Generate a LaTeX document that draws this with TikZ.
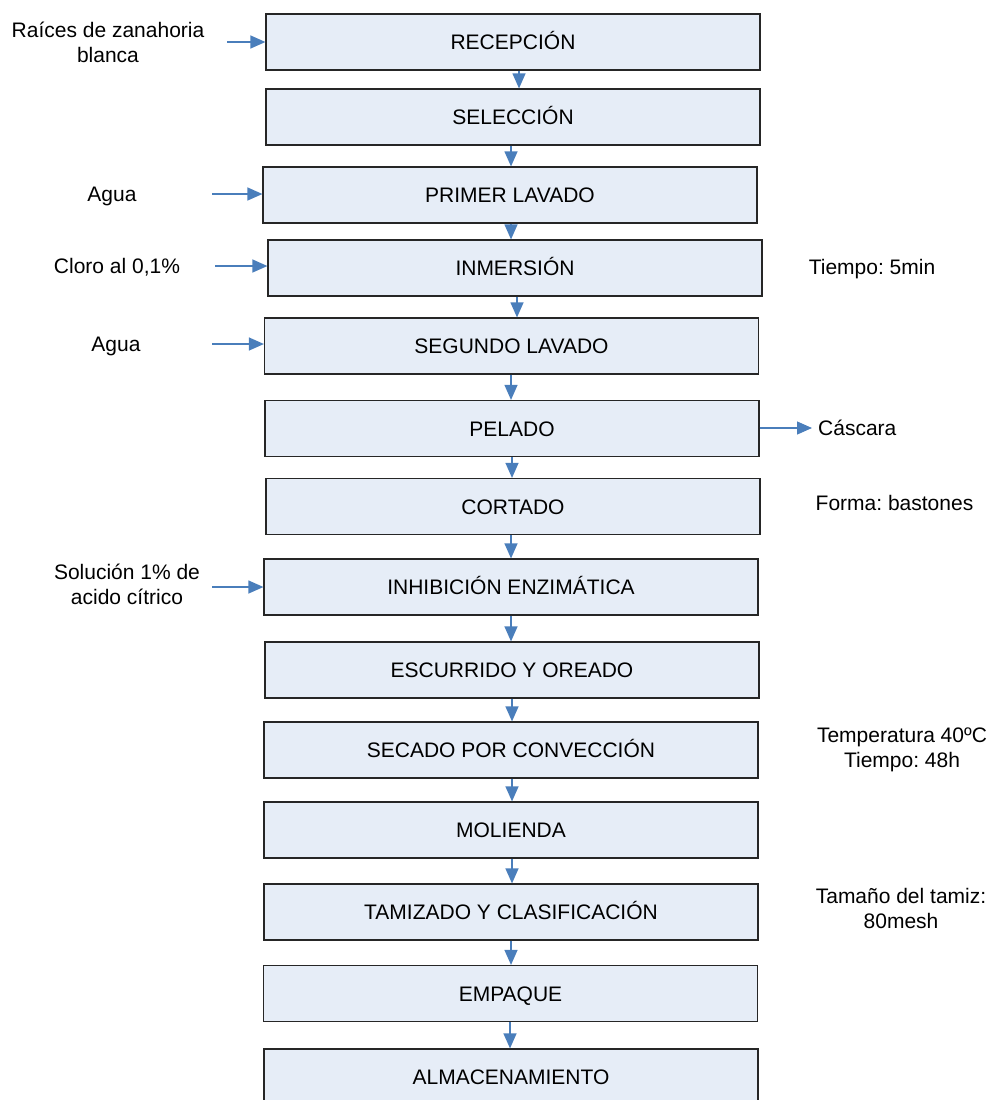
\documentclass[tikz,border=0pt]{standalone}
\usepackage{fontspec}
\setmainfont{Liberation Sans}
\usetikzlibrary{arrows.meta}
\definecolor{boxfill}{RGB}{230,237,247}
\definecolor{arrblue}{RGB}{74,126,187}
\frenchspacing
\begin{document}
\frenchspacing
\begin{tikzpicture}[x=1pt,y=-1pt,
  every node/.style={font=\fontsize{21}{25}\selectfont\frenchspacing},
  box/.style={draw=black!85, line width=1.2pt, fill=boxfill, minimum width=494pt, minimum height=56pt, inner sep=0pt, text height=15pt, text depth=0pt},
  lbl/.style={align=center, inner sep=0pt},
  lbl1/.style={inner sep=0pt, text height=15pt, text depth=0pt},
  arr/.style={draw=arrblue, line width=1.2pt, -{Triangle[length=15pt,width=13pt]}}]
\clip (0,0) rectangle (995,1100);
% process boxes
\node[box] (b1)  at (513,42)    {RECEPCIÓN};
\node[box] (b2)  at (513,117)   {SELECCIÓN};
\node[box] (b3)  at (510,195)   {PRIMER LAVADO};
\node[box] (b4)  at (515,268)   {INMERSIÓN};
\node[box] (b5)  at (511.5,346) {SEGUNDO LAVADO};
\node[box] (b6)  at (512,428.5) {PELADO};
\node[box] (b7)  at (513,506.5) {CORTADO};
\node[box] (b8)  at (511,587)   {INHIBICIÓN ENZIMÁTICA};
\node[box] (b9)  at (512,670)   {ESCURRIDO Y OREADO};
\node[box] (b10) at (511,750)   {SECADO POR CONVECCIÓN};
\node[box] (b11) at (511,830)   {MOLIENDA};
\node[box] (b12) at (511,912)   {TAMIZADO Y CLASIFICACIÓN};
\node[box] (b13) at (510.5,993.5) {EMPAQUE};
\node[box] (b14) at (511,1077)  {ALMACENAMIENTO};
% flow arrows
\draw[arr] ([xshift=6]b1.south) -- ([xshift=6]b2.north);
\draw[arr] ([xshift=-2]b2.south) -- ([xshift=1]b3.north);
\draw[arr] ([xshift=1]b3.south) -- ([xshift=-4]b4.north);
\draw[arr] ([xshift=2]b4.south) -- ([xshift=5.5]b5.north);
\draw[arr] ([xshift=-0.5]b5.south) -- ([xshift=-1]b6.north);
\draw[arr] (b6.south) -- ([xshift=-1]b7.north);
\draw[arr] ([xshift=-2]b7.south) -- (b8.north);
\draw[arr] (b8.south) -- ([xshift=-1]b9.north);
\draw[arr] (b9.south) -- ([xshift=1]b10.north);
\draw[arr] ([xshift=1]b10.south) -- ([xshift=1]b11.north);
\draw[arr] ([xshift=1]b11.south) -- ([xshift=1]b12.north);
\draw[arr] (b12.south) -- ([xshift=0.5]b13.north);
\draw[arr] ([xshift=-0.5]b13.south) -- ([xshift=-1]b14.north);
% inputs
\node[lbl] (t1) at (108,42) {Raíces de zanahoria\\blanca};
\coordinate (i1) at (227,42);
\draw[arr] (i1) -- (i1 -| b1.west);
\node[lbl1] (t3) at (112,194) {Agua};
\coordinate (i3) at (212,194);
\draw[arr] (i3) -- (i3 -| b3.west);
\node[lbl1] (t4) at (117,266) {Cloro al 0,1\%};
\coordinate (i4) at (215,266);
\draw[arr] (i4) -- (i4 -| b4.west);
\node[lbl1] (t5) at (116,344) {Agua};
\coordinate (i5) at (212,344);
\draw[arr] (i5) -- (i5 -| b5.west);
\node[lbl] (t8) at (127,584) {Solución 1\% de\\acido cítrico};
\coordinate (i8) at (212,587);
\draw[arr] (i8) -- (i8 -| b8.west);
% outputs and notes
\node[lbl1] (n4) at (872,267) {Tiempo: 5min};
\node[lbl1, anchor=west] (cas) at (818,428) {Cáscara};
\coordinate (o6) at (812,428);
\draw[arr] (o6 -| b6.east) -- (o6);
\node[lbl1] (n7) at (894.5,503) {Forma: bastones};
\node[lbl] (n10) at (902,749.5) {Temperatura 40ºC\\Tiempo: 48h};
\node[lbl] (n12) at (901,908.5) {Tamaño del tamiz:\\80mesh};
\end{tikzpicture}
\end{document}
